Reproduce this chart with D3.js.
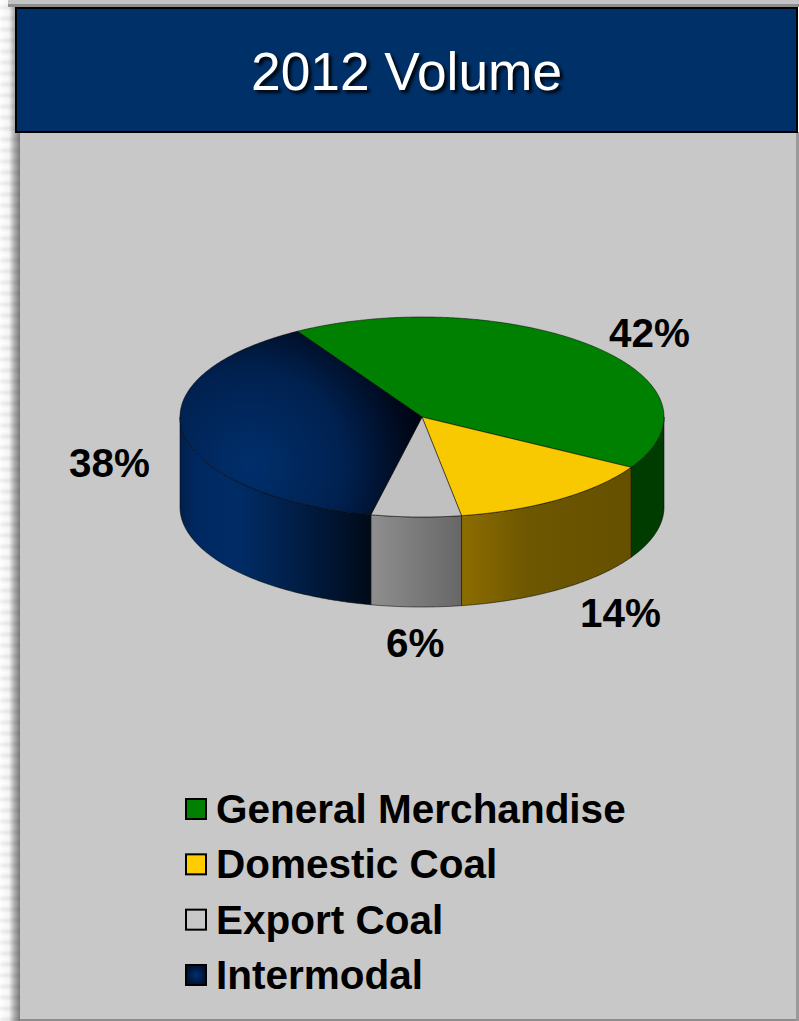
<!DOCTYPE html>
<html>
<head>
<meta charset="utf-8">
<title>2012 Volume</title>
<script src="https://cdnjs.cloudflare.com/ajax/libs/d3/7.8.5/d3.min.js"></script>
<style>
  html, body { margin: 0; padding: 0; background: #fff; overflow: hidden; }
  svg { display: block; font-family: "Liberation Sans", Arial, sans-serif; }
</style>
</head>
<body>
<svg id="chart" width="799" height="1021"></svg>
<script>
// Share of 2012 volume by commodity group
const categories = ["General Merchandise", "Domestic Coal", "Export Coal", "Intermodal"];
const shares = [42, 14, 6, 38];
const topFills = ["#008000", "#f8c800", "#c0c0c0", "url(#intermodalTop)"];
const wallFills = ["#003c00", "url(#domesticWall)", "url(#exportWall)", "url(#intermodalWall)"];
const swatchFills = ["#008000", "#ffcc00", "#c8c8c8", "url(#intermodalSwatch)"];

const svg = d3.select("#chart");
const defs = svg.append("defs");

function linear(id, x1, x2, stops) {
  const g = defs.append("linearGradient").attr("id", id)
    .attr("gradientUnits", "userSpaceOnUse")
    .attr("x1", x1).attr("x2", x2).attr("y1", 0).attr("y2", 0);
  stops.forEach(([o, c]) => g.append("stop").attr("offset", o).attr("stop-color", c));
}
linear("domesticWall", 468, 632, [[0, "#8a6b00"], [0.35, "#6e5700"], [1, "#655000"]]);
linear("exportWall", 372, 468, [[0, "#8e8e8e"], [1, "#646464"]]);
linear("intermodalWall", 180, 372, [[0, "#00204c"], [0.08, "#002860"], [0.3, "#002c66"], [0.65, "#001c42"], [1, "#000a18"]]);
linear("pageEdge", 0, 20, [[0, "#ffffff"], [0.45, "#f4f4f4"], [0.72, "#b0b0b0"], [1, "#7c7c7c"]]);

const topGrad = defs.append("radialGradient").attr("id", "intermodalTop")
  .attr("gradientUnits", "userSpaceOnUse")
  .attr("cx", 250).attr("cy", 465).attr("r", 190);
[[0, "#002f6c"], [0.5, "#002150"], [0.82, "#000a1e"], [1, "#00000a"]]
  .forEach(([o, c]) => topGrad.append("stop").attr("offset", o).attr("stop-color", c));
const swatchGrad = defs.append("radialGradient").attr("id", "intermodalSwatch");
[[0, "#003070"], [1, "#001030"]]
  .forEach(([o, c]) => swatchGrad.append("stop").attr("offset", o).attr("stop-color", c));

const soften = defs.append("filter").attr("id", "soften")
  .attr("x", "-20%").attr("y", "-20%").attr("width", "140%").attr("height", "140%");
soften.append("feGaussianBlur").attr("stdDeviation", 1.6);

// Slide backdrop: banded left edge, top shadow, grey panel
const backdrop = svg.append("g");
backdrop.append("rect").attr("width", 20).attr("height", 1021).attr("fill", "url(#pageEdge)");
backdrop.append("g").attr("filter", "url(#soften)")
  .selectAll("rect").data(d3.range(6, 1021, 11)).join("rect")
  .attr("x", 0).attr("y", d => d).attr("width", 20).attr("height", 3)
  .attr("fill", "#000").attr("fill-opacity", 0.09);
backdrop.append("rect").attr("x", 8).attr("width", 791).attr("height", 7).attr("fill", "#c4c4c4");
backdrop.append("rect").attr("x", 8).attr("y", 4).attr("width", 791).attr("height", 3).attr("fill", "#8e8e8e");
backdrop.append("rect").attr("x", 20).attr("y", 132).attr("width", 779).attr("height", 887).attr("fill", "#c8c8c8");
backdrop.append("rect").attr("x", 20).attr("y", 1019).attr("width", 779).attr("height", 2).attr("fill", "#8c8c8c");
backdrop.append("rect").attr("x", 796).attr("y", 132).attr("width", 3).attr("height", 889).attr("fill", "#999");

// Title band
svg.append("rect").attr("x", 16).attr("y", 8).attr("width", 781).attr("height", 124)
  .attr("fill", "#003068").attr("stroke", "#000").attr("stroke-width", 2);
svg.append("text").attr("x", 251).attr("y", 90)
  .attr("font-size", 53.3).attr("fill", "#fff")
  .style("filter", "drop-shadow(3px 3px 1.5px rgba(0,0,0,0.85))")
  .text("2012 Volume");

// Tilted pie: the unit circle is squashed by the two scales below
const x = d3.scaleLinear().domain([-1, 1]).range([180, 664]);
const yTop = d3.scaleLinear().domain([-1, 1]).range([317, 517]);
const depth = 90;
const startAngle = -31 * Math.PI / 180;
const slices = d3.pie().sort(null).value(d => d)
  .startAngle(startAngle).endAngle(startAngle + 2 * Math.PI)(shares);

const rimPoints = (a0, a1, offset) => {
  const n = Math.max(2, Math.ceil((a1 - a0) / 0.01));
  return d3.range(n + 1).map(i => {
    const a = a0 + (a1 - a0) * i / n;
    return [x(Math.sin(a)), yTop(-Math.cos(a)) + offset];
  });
};
const pathOf = d3.line();

const pie = svg.append("g");
const edge = sel => sel.attr("stroke", "#000").attr("stroke-width", 0.8).attr("stroke-opacity", 0.65).attr("stroke-linejoin", "round");

// Side walls: only the part of each slice's rim that faces the viewer
pie.append("g").selectAll("path").data(slices).join("path")
  .attr("d", d => {
    const a0 = Math.max(d.startAngle, Math.PI / 2);
    const a1 = Math.min(d.endAngle, 3 * Math.PI / 2);
    if (a1 <= a0) return null;
    return pathOf(rimPoints(a0, a1, 0).concat(rimPoints(a0, a1, depth).reverse())) + "Z";
  })
  .attr("fill", (d, i) => wallFills[i])
  .call(edge);

// Top faces
pie.append("g").selectAll("path").data(slices).join("path")
  .attr("d", d => pathOf([[x(0), yTop(0)], ...rimPoints(d.startAngle, d.endAngle, 0)]) + "Z")
  .attr("fill", (d, i) => topFills[i])
  .call(edge);

// Percentage labels
const labels = svg.append("g").attr("font-size", 40.4).attr("font-weight", "bold").attr("fill", "#000");
const labelSpots = [[609, 347], [580, 627], [386, 657], [69, 477]];
labels.selectAll("text").data(shares).join("text")
  .attr("x", (d, i) => labelSpots[i][0])
  .attr("y", (d, i) => labelSpots[i][1])
  .text(d => d + "%");

// Legend
const rowY = d3.scalePoint().domain(categories).range([809, 975]);
const legend = svg.append("g").selectAll("g").data(categories).join("g")
  .attr("transform", d => `translate(185,${rowY(d)})`);
legend.append("rect").attr("x", 1).attr("y", -10).attr("width", 20).attr("height", 20)
  .attr("fill", (d, i) => swatchFills[i]).attr("stroke", "#000").attr("stroke-width", 2);
legend.append("text").attr("x", 31).attr("y", 14)
  .attr("font-size", 40.5).attr("font-weight", "bold").attr("fill", "#000")
  .text(d => d);
</script>
</body>
</html>
